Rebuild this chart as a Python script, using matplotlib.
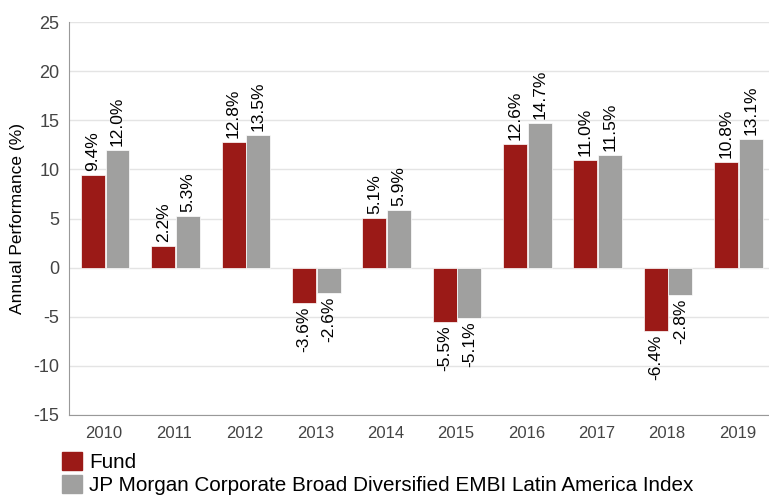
import numpy as np
import matplotlib
matplotlib.use("Agg")
import matplotlib.pyplot as plt
from matplotlib.patches import Patch

years = ['2010', '2011', '2012', '2013', '2014', '2015', '2016', '2017', '2018', '2019']
fund = [9.4, 2.2, 12.8, -3.6, 5.1, -5.5, 12.6, 11.0, -6.4, 10.8]
index = [12.0, 5.3, 13.5, -2.6, 5.9, -5.1, 14.7, 11.5, -2.8, 13.1]
series_names = ['Fund', 'JP Morgan Corporate Broad Diversified EMBI Latin America Index']

plt.rcParams['font.family'] = ['Liberation Sans', 'DejaVu Sans']
plt.rcParams['axes.unicode_minus'] = False

fund_color = '#9b1a17'
index_color = '#a0a09f'

fig = plt.figure(figsize=(7.69, 4.97), dpi=100)
ax = fig.add_axes([0.0897, 0.165, 0.9103, 0.7907])

x = np.arange(len(years))
w = 0.34
b1 = ax.bar(x - 0.16, fund, w, color=fund_color, edgecolor='white', linewidth=0.5, zorder=3)
b2 = ax.bar(x + 0.19, index, w, color=index_color, edgecolor='white', linewidth=0.5, zorder=3)


def label_bars(bars, vals):
    for rect, v in zip(bars, vals):
        cx = rect.get_x() + rect.get_width() / 2
        va = 'bottom' if v >= 0 else 'top'
        off = 0.4 if v >= 0 else -0.4
        ax.text(cx, v + off, f'{v:.1f}%', rotation=90, ha='center', va=va,
                fontsize=12.5, color='black')


label_bars(b1, fund)
label_bars(b2, index)

ax.set_xlim(-0.5, 9.45)
ax.set_ylim(-15, 25)
ax.set_yticks(range(-15, 26, 5))
ax.set_xticks(x)
ax.set_xticklabels(years)
ax.tick_params(axis='both', length=0, colors='#444444')
ax.tick_params(axis='y', pad=7, labelsize=13)
ax.tick_params(axis='x', pad=8, labelsize=12)
ax.grid(axis='y', color='#e4e4e4', linewidth=1, zorder=0)
for s in ['top', 'right']:
    ax.spines[s].set_visible(False)
for s in ['left', 'bottom']:
    ax.spines[s].set_color('#999999')
ax.set_ylabel('Annual Performance (%)', fontsize=12.5, color='black', labelpad=6)

handles = [Patch(color=fund_color), Patch(color=index_color)]
fig.legend(handles, series_names, loc='lower left', bbox_to_anchor=(0.08, 0.004),
           frameon=False, fontsize=14.85, handlelength=1.0, handleheight=1.0,
           handletextpad=0.35, labelspacing=0.14, borderaxespad=0, borderpad=0)

fig.savefig('out.png', dpi=100)
